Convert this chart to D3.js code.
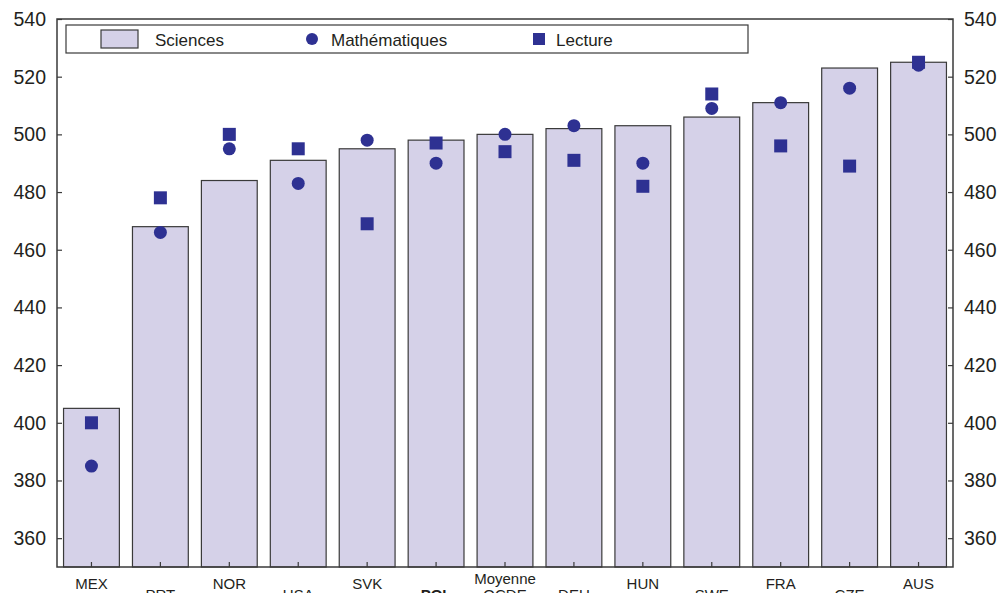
<!DOCTYPE html>
<html>
<head>
<meta charset="utf-8">
<style>
  body { margin: 0; background: #fff; }
  text { font-family: "Liberation Sans", Arial, sans-serif; fill: #231f20; }
</style>
<script src="https://cdn.jsdelivr.net/npm/d3@7"></script>
</head>
<body>
<div id="chart"></div>
<script>
var countries = ["MEX", "PRT", "NOR", "USA", "SVK", "POL", "Moyenne OCDE", "DEU", "HUN", "SWE", "FRA", "CZE", "AUS"];
var sciences  = [405, 468, 484, 491, 495, 498, 500, 502, 503, 506, 511, 523, 525];
var maths     = [385, 466, 495, 483, 498, 490, 500, 503, 490, 509, 511, 516, 524];
var lecture   = [400, 478, 500, 495, 469, 497, 494, 491, 482, 514, 496, 489, 525];
var yTicks    = [360, 380, 400, 420, 440, 460, 480, 500, 520, 540];

var width = 1004, height = 593;
var mLeft = 57, mRight = 953, mTop = 19, mBottom = 567;
var barFill = "#d5d1e8", markFill = "#2e3192", lineCol = "#3a3a3a";

var svg = d3.select("#chart").append("svg")
  .attr("width", width)
  .attr("height", height);

var x = d3.scaleBand().domain(countries).range([mLeft, mRight]).paddingInner(0.19).paddingOuter(0.095);
var y = d3.scaleLinear().domain([350, 540]).range([mBottom, mTop]);

// bars
svg.selectAll(".bar")
  .data(countries)
  .enter()
  .append("rect")
  .attr("class", "bar")
  .attr("x", function(d){ return x(d); })
  .attr("y", function(d, i){ return y(sciences[i]); })
  .attr("width", x.bandwidth())
  .attr("height", function(d, i){ return y(350) - y(sciences[i]); })
  .style("fill", barFill)
  .style("stroke", lineCol)
  .style("stroke-width", 1.2);

// axes
var axL = svg.append("g").attr("transform", "translate(" + mLeft + ",0)")
  .call(d3.axisRight(y).tickValues(yTicks).tickSize(5).tickFormat(""));
var axR = svg.append("g").attr("transform", "translate(" + mRight + ",0)")
  .call(d3.axisLeft(y).tickValues(yTicks).tickSize(5).tickFormat(""));
var axB = svg.append("g").attr("transform", "translate(0," + mBottom + ")")
  .call(d3.axisTop(x).tickSize(5).tickFormat(""));
[axL, axR, axB].forEach(function(a){
  a.select(".domain").remove();
  a.selectAll("line").style("stroke", lineCol).style("stroke-width", 1.2);
});

// frame
svg.append("rect")
  .attr("x", mLeft).attr("y", mTop)
  .attr("width", mRight - mLeft).attr("height", mBottom - mTop)
  .style("fill", "none").style("stroke", lineCol).style("stroke-width", 1.5);

// y tick labels
svg.selectAll(".yl")
  .data(yTicks).enter().append("text")
  .attr("x", 46).attr("y", function(d){ return y(d); })
  .attr("dy", "0.36em").attr("text-anchor", "end")
  .style("font-size", "19.5px").text(function(d){ return d; });
svg.selectAll(".yr")
  .data(yTicks).enter().append("text")
  .attr("x", 964).attr("y", function(d){ return y(d); })
  .attr("dy", "0.36em").attr("text-anchor", "start")
  .style("font-size", "19.5px").text(function(d){ return d; });

// math markers
svg.selectAll(".math")
  .data(countries).enter().append("circle")
  .attr("cx", function(d){ return x(d) + x.bandwidth() / 2; })
  .attr("cy", function(d, i){ return y(maths[i]); })
  .attr("r", 6.5)
  .style("fill", markFill);

// reading markers
var sq = 13;
svg.selectAll(".lect")
  .data(countries).enter().append("rect")
  .attr("x", function(d){ return x(d) + x.bandwidth() / 2 - sq / 2; })
  .attr("y", function(d, i){ return y(lecture[i]) - sq / 2; })
  .attr("width", sq).attr("height", sq)
  .style("fill", markFill);

// category labels (staggered)
var labels = svg.selectAll(".cl")
  .data(countries).enter().append("text")
  .attr("text-anchor", "middle")
  .attr("x", function(d){ return x(d) + x.bandwidth() / 2; })
  .attr("y", function(d, i){ return i % 2 === 0 ? 589 : 600; })
  .style("font-size", "15px")
  .style("font-weight", function(d){ return d === "POL" ? "bold" : "normal"; })
  .text(function(d){ return d === "Moyenne OCDE" ? "" : d; });
labels.filter(function(d){ return d === "Moyenne OCDE"; })
  .attr("y", 584)
  .each(function(d){
    var t = d3.select(this);
    t.append("tspan").attr("x", t.attr("x")).text("Moyenne");
    t.append("tspan").attr("x", t.attr("x")).attr("dy", 16).text("OCDE");
  });

// legend
var lg = svg.append("g");
lg.append("rect").attr("x", 66).attr("y", 25).attr("width", 682).attr("height", 28)
  .style("fill", "#fff").style("stroke", lineCol).style("stroke-width", 1.2);
lg.append("rect").attr("x", 101).attr("y", 30).attr("width", 37).attr("height", 18)
  .style("fill", barFill).style("stroke", lineCol).style("stroke-width", 1.2);
lg.append("text").attr("x", 155).attr("y", 46).style("font-size", "17px").text("Sciences");
lg.append("circle").attr("cx", 312).attr("cy", 39).attr("r", 6).style("fill", markFill);
lg.append("text").attr("x", 331).attr("y", 46).style("font-size", "17px").text("Mathématiques");
lg.append("rect").attr("x", 533).attr("y", 33).attr("width", 12).attr("height", 12).style("fill", markFill);
lg.append("text").attr("x", 556).attr("y", 46).style("font-size", "17px").text("Lecture");
</script>
</body>
</html>
